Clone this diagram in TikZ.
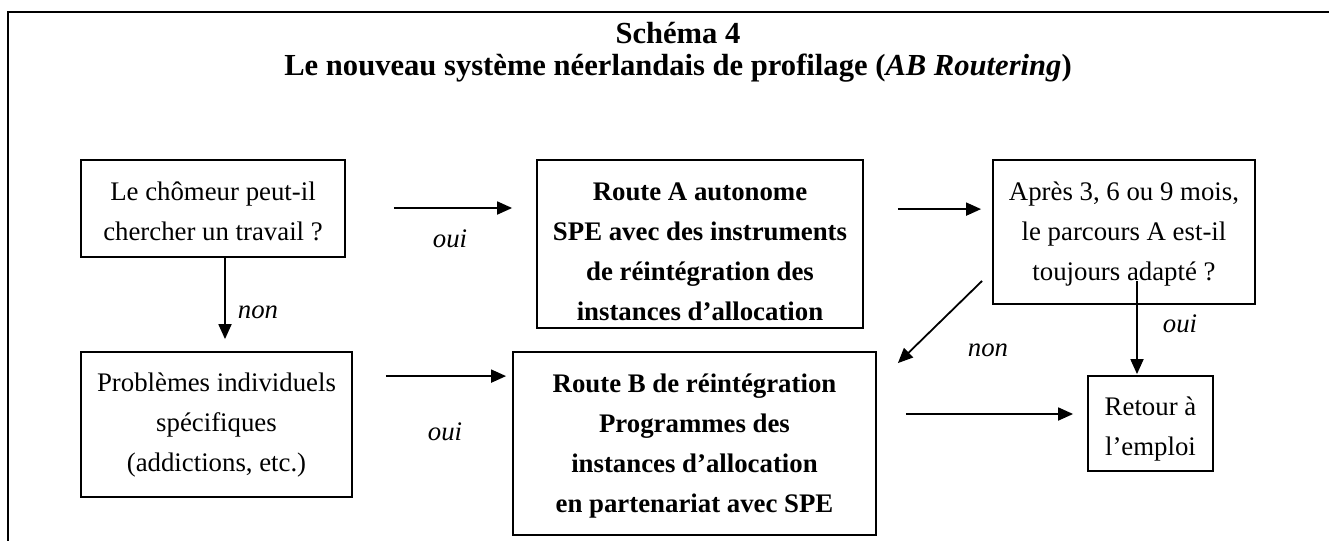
\documentclass[tikz,border=0pt]{standalone}
\usepackage{fontspec}
\setmainfont{Liberation Serif}
\usetikzlibrary{arrows.meta,calc}

\begin{document}
\begin{tikzpicture}[x=0.5pt,y=-0.5pt,
  box/.style={draw, line width=0.9pt, rectangle, inner sep=0pt},
  body/.style={font=\fontsize{13.4}{20}\selectfont, align=center, inner sep=0pt, anchor=base},
  bodyb/.style={body, font=\fontsize{13.4}{20}\selectfont\bfseries},
  lbl/.style={font=\fontsize{13.4}{16}\selectfont\itshape, inner sep=0pt, anchor=base},
  arr/.style={line width=0.9pt, -{Triangle[length=7.5pt,width=6.5pt]}}]

\useasboundingbox (0,0) rectangle (1329,541);

% outer frame (open on the right and at the bottom)
\draw[line width=1.35pt] (8,541) -- (8,12) -- (1329,12);

% title (base anchor sits on the last line)
\node[align=center, inner sep=0pt, anchor=base,
      font=\fontsize{15.3}{16}\selectfont\bfseries] (title) at (678,75)
  {Schéma 4\\Le nouveau système néerlandais de profilage (\textit{AB Routering})};

% boxes
\node[box, minimum width=132pt,   minimum height=48.5pt] (b1) at (213,208.5) {};
\node[box, minimum width=163pt,   minimum height=84pt]   (bA) at (700,244) {};
\node[box, minimum width=131pt,   minimum height=72pt]   (b3) at (1124,232) {};
\node[box, minimum width=135.5pt, minimum height=72.5pt] (b4) at (216.5,424.5) {};
\node[box, minimum width=181.5pt, minimum height=91.5pt] (bB) at (694.5,443.5) {};
\node[box, minimum width=62.5pt,  minimum height=47.5pt] (b6) at (1150.5,423.5) {};

% box texts (placed by the baseline of their last line)
\node[body]  (t1) at (213,240)  {Le chômeur peut-il\\chercher un travail ?};
\node[bodyb] (tA) at (700,320)  {Route A autonome\\SPE avec des instruments\\de réintégration des\\instances d’allocation};
\node[body]  (t3) at (1124,280) {Après 3, 6 ou 9 mois,\\le parcours A est-il\\toujours adapté ?};
\node[body]  (t4) at (216.5,471) {Problèmes individuels\\spécifiques\\(addictions, etc.)};
\node[bodyb] (tB) at (694.5,512) {Route B de réintégration\\Programmes des\\instances d’allocation\\en partenariat avec SPE};
\node[body]  (t6) at (1150.5,455) {Retour à\\l’emploi};

% connectors
\draw[arr] ($(b1.east)+(48,-0.5)$) -- ($(bA.west |- b1.east)+(-24,-0.5)$);
\draw[arr] ($(bA.north east)+(34,50)$) -- ($(b3.north west)+(-11,50)$);
\draw[arr] ($(b1.south)+(12,0)$) -- ($(b4.north)+(8.5,-12)$);
\draw[arr] ($(b4.north east)+(33,25)$) -- ($(bB.north west)+(-6,25)$);
\draw[arr] ($(b3.south west)+(-10,-24)$) -- ($(bB.north east)+(21,12)$);
\draw[arr] ($(b3.south)+(13,-24)$) -- ($(b6.north)+(-13.5,-1)$);
\draw[arr] ($(bB.east)+(29,-29.5)$) -- ($(b6.west)+(-14,-9.5)$);

% connector labels
\node[lbl] (l1) at (450,247)  {oui};
\node[lbl] (l2) at (258,318)  {non};
\node[lbl] (l3) at (445,440)  {oui};
\node[lbl] (l4) at (988,356)  {non};
\node[lbl] (l5) at (1180,332) {oui};
\end{tikzpicture}
\end{document}
